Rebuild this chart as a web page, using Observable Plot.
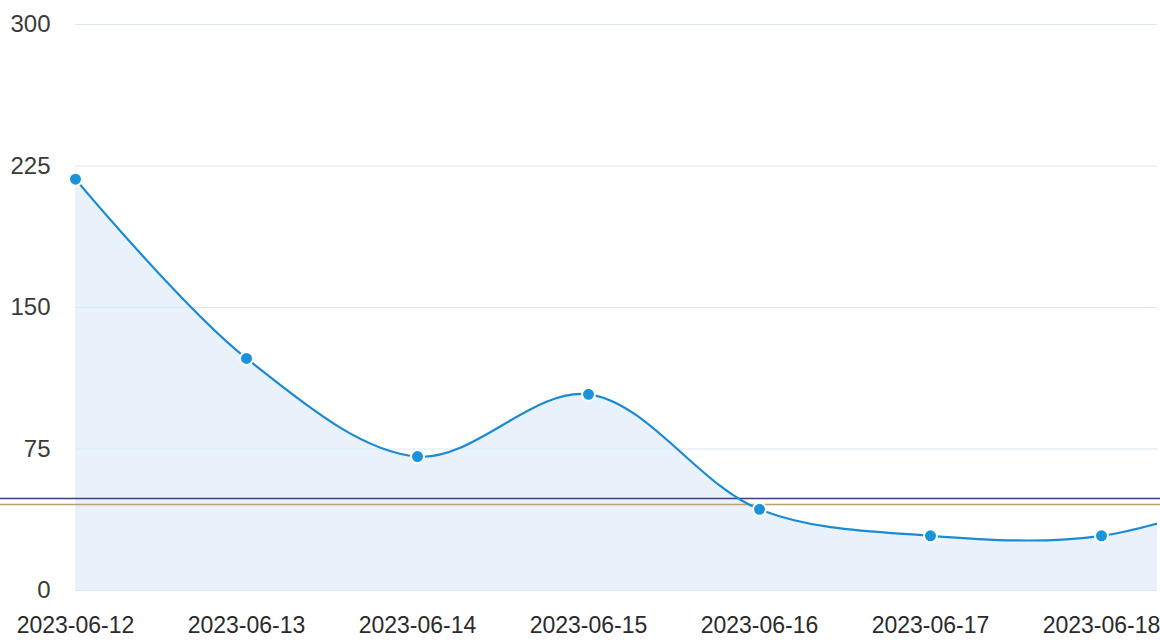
<!DOCTYPE html>
<html>
<head>
<meta charset="utf-8">
<script src="https://cdn.jsdelivr.net/npm/d3@7"></script>
<script src="https://cdn.jsdelivr.net/npm/@observablehq/plot@0.6"></script>
<style>
  html, body { margin: 0; padding: 0; background: #fff; overflow: hidden; }
  #chart svg { display: block; }
</style>
</head>
<body>
<div id="chart"></div>
<script>
const dates = ["2023-06-12", "2023-06-13", "2023-06-14", "2023-06-15", "2023-06-16", "2023-06-17", "2023-06-18", "2023-06-19"];
const values = [218, 123, 71, 104, 43, 29, 29, 55];
const yTicks = [0, 75, 150, 225, 300];
const refLines = [48.8, 45.6];
const refColors = ["#3d3f86", "#bf9d72"];

const parse = d3.utcParse("%Y-%m-%d");
const data = dates.map((d, i) => ({date: parse(d), value: values[i]}));
const xTicks = data.slice(0, 7).map(d => d.date);
const refs = refLines.map((v, i) => ({v, c: refColors[i]}));

const chart = Plot.plot({
  width: 1160,
  height: 640,
  marginLeft: 75,
  marginRight: 3,
  marginTop: 24,
  marginBottom: 50,
  style: {fontFamily: "'Liberation Sans', Arial, sans-serif", fontSize: "24px", color: "#333", background: "#fff"},
  x: {type: "utc", domain: [data[0].date, data[7].date], range: [75, 1272]},
  y: {domain: [0, 300], ticks: yTicks},
  marks: [
    Plot.gridY(yTicks, {stroke: "#dde6f0", strokeOpacity: 1, strokeWidth: 1}),
    Plot.areaY(data, {x: "date", y: "value", curve: "catmull-rom", fill: "#d7e8f7", fillOpacity: 0.55, clip: true}),
    Plot.ruleY(refs, {y: "v", stroke: "c", strokeWidth: 1.6, insetLeft: -75, insetRight: -3}),
    Plot.lineY(data, {x: "date", y: "value", curve: "catmull-rom", stroke: "#1b8ad3", strokeWidth: 2.2, clip: true}),
    Plot.dot(data, {x: "date", y: "value", r: 6.5, fill: "#1b93dc", stroke: "#fff", strokeWidth: 2}),
    Plot.axisY(yTicks, {tickSize: 0, tickPadding: 25, fill: "#3a3a3a", fontSize: 24}),
    Plot.axisX(xTicks, {tickSize: 0, tickPadding: 26, fill: "#2a2a2a", fontSize: 23, tickFormat: d3.utcFormat("%Y-%m-%d")})
  ]
});
document.getElementById("chart").append(chart);
</script>
</body>
</html>
